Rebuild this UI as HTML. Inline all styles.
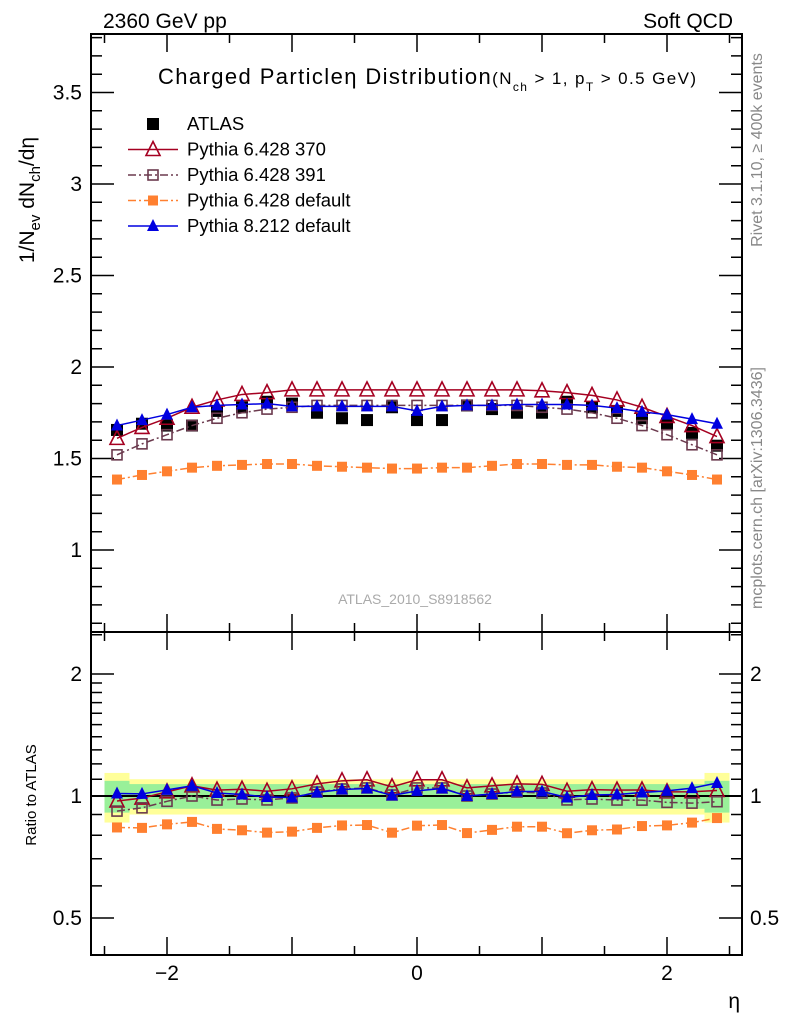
<!DOCTYPE html>
<html><head><meta charset="utf-8">
<style>
body{margin:0;background:#fff;}
svg text{font-family:"Liberation Sans",Arial,sans-serif;}
</style></head>
<body>
<svg id="chart" width="786" height="1024" viewBox="0 0 786 1024" xmlns="http://www.w3.org/2000/svg">
<g id="bands"></g>
<g id="axes"></g>
<g id="series"></g>
<g id="labels">
<text x="103" y="28" font-size="21">2360 GeV pp</text>
<text x="733" y="28" font-size="21" text-anchor="end">Soft QCD</text>
<text x="158" y="84" font-size="22" textLength="538" lengthAdjust="spacing">Charged Particle<tspan>η</tspan> Distribution<tspan font-size="17">(N</tspan><tspan font-size="12" dy="7">ch</tspan><tspan font-size="17" dy="-7"> &gt; 1, p</tspan><tspan font-size="12" dy="7">T</tspan><tspan font-size="17" dy="-7"> &gt; 0.5 GeV)</tspan></text>
<text transform="translate(34,200) rotate(-90)" font-size="21" text-anchor="middle">1/N<tspan font-size="15" dy="6">ev</tspan><tspan dy="-6"> dN</tspan><tspan font-size="15" dy="6">ch</tspan><tspan dy="-6">/dη</tspan></text>
<text transform="translate(36,795) rotate(-90)" font-size="15" text-anchor="middle">Ratio to ATLAS</text>
<text x="740" y="1008" font-size="21" text-anchor="end">η</text>
<text transform="translate(762,150) rotate(-90)" font-size="16" fill="#888" text-anchor="middle">Rivet 3.1.10, ≥ 400k events</text>
<text transform="translate(762,488) rotate(-90)" font-size="16" fill="#888" text-anchor="middle">mcplots.cern.ch [arXiv:1306.3436]</text>
<text x="415" y="604" font-size="14" fill="#aaa" text-anchor="middle">ATLAS_2010_S8918562</text>
</g>
<g id="legend"></g>
</svg>
<script>
const etas=[-2.4,-2.2,-2.0,-1.8,-1.6,-1.4,-1.2,-1.0,-0.8,-0.6,-0.4,-0.2,0,0.2,0.4,0.6,0.8,1.0,1.2,1.4,1.6,1.8,2.0,2.2,2.4];
const atlas=[1.656,1.69,1.68,1.68,1.76,1.78,1.81,1.80,1.75,1.72,1.71,1.78,1.71,1.71,1.79,1.77,1.75,1.75,1.81,1.78,1.76,1.72,1.69,1.64,1.57];
const atlasRelErrIn=[0.09,0.07,0.07,0.07,0.07,0.07,0.07,0.07,0.07,0.07,0.07,0.07,0.07,0.07,0.07,0.07,0.07,0.07,0.07,0.07,0.07,0.07,0.07,0.07,0.09];
const atlasRelErrOut=[0.14,0.10,0.10,0.10,0.10,0.10,0.10,0.10,0.10,0.10,0.10,0.10,0.10,0.10,0.10,0.10,0.10,0.10,0.10,0.10,0.10,0.10,0.10,0.10,0.14];
const py370=[1.61,1.67,1.72,1.78,1.82,1.85,1.86,1.875,1.875,1.875,1.875,1.875,1.875,1.875,1.875,1.875,1.875,1.87,1.86,1.845,1.82,1.78,1.73,1.68,1.62];
const py391=[1.52,1.58,1.63,1.68,1.72,1.75,1.77,1.78,1.79,1.79,1.79,1.79,1.79,1.79,1.79,1.79,1.79,1.78,1.77,1.75,1.72,1.68,1.63,1.575,1.52];
const py6def=[1.385,1.41,1.43,1.45,1.46,1.465,1.47,1.47,1.46,1.455,1.45,1.445,1.445,1.45,1.45,1.46,1.47,1.47,1.465,1.465,1.455,1.45,1.43,1.41,1.385];
const py8def=[1.68,1.71,1.74,1.78,1.79,1.795,1.80,1.785,1.785,1.785,1.785,1.785,1.76,1.785,1.79,1.79,1.795,1.795,1.795,1.79,1.775,1.755,1.74,1.715,1.69];
const mainTicks=["1","1.5","2","2.5","3","3.5"];
const ratioTicks=["0.5","1","2"];
const xTicks=["−2","0","2"];

const NS="http://www.w3.org/2000/svg";
const L=91,R=742,T1=34,B1=632,B2=955;
const X=v=>417+v*125;
const Y=v=>367-(v-2)*183;
const YR=r=>796-Math.log2(r)*122;
function mk(tag,attrs,parent){const e=document.createElementNS(NS,tag);for(const k in attrs)e.setAttribute(k,attrs[k]);parent.appendChild(e);return e;}
const axes=document.getElementById('axes'),ser=document.getElementById('series'),bands=document.getElementById('bands'),leg=document.getElementById('legend');

const hw=0.1;
etas.forEach((e,i)=>{
  const o=atlasRelErrOut[i],n=atlasRelErrIn[i];
  const y1=mk('rect',{x:X(e-hw),width:X(e+hw)-X(e-hw),y:YR(1+o),height:YR(1-o)-YR(1+o),fill:'#ffff99'},bands);
  
  
  const g=mk('rect',{x:X(e-hw),width:X(e+hw)-X(e-hw),y:YR(1+n),height:YR(1-n)-YR(1+n),fill:'#99f099'},bands);
  
  
});

[[T1,B1],[B1,B2]].forEach(([t,b])=>{
  const f=mk('rect',{x:L,y:t,width:R-L,height:b-t,fill:'none',stroke:'#000','stroke-width':2},axes);
  
  
});
let d='';
for(let k=6;k<=38;k++){const v=k/10;const y=Y(v);if(y<T1||y>B1)continue;const maj=k%5==0;const len=maj?23:11;d+=`M${L} ${y}h${len}M${R} ${y}h${-len}`;}
for(let k=5;k<=25;k++){const v=k/10;if(k>20&&k!=25)continue;const y=YR(v);if(y<B1||y>B2)continue;const maj=(k==5||k==10||k==20);const len=maj?23:11;d+=`M${L} ${y}h${len}M${R} ${y}h${-len}`;}
for(let k=-5;k<=5;k++){const v=k/2;const x=X(v);if(x<L||x>R)continue;const maj=k%2==0;const len=maj?18:9;d+=`M${x} ${B1}v${-len}M${x} ${T1}v${len}M${x} ${B2}v${-len}M${x} ${B1}v${len}`;}
mk('path',{d:d,stroke:'#000','stroke-width':1.5,fill:'none'},axes);
mk('line',{x1:L,x2:R,y1:YR(1),y2:YR(1),stroke:'#000','stroke-width':2},axes);
mainTicks.forEach(t=>{const e=mk('text',{x:82,y:Y(+t)+7,'font-size':21,'text-anchor':'end'},axes);e.textContent=t;});
ratioTicks.forEach(t=>{[[82,'end'],[750,'start']].forEach(([x,a])=>{const e=mk('text',{x:x,y:YR(+t)+7,'font-size':21,'text-anchor':a},axes);e.textContent=t;});});
xTicks.forEach(t=>{const v=parseFloat(t.replace('−','-'));const e=mk('text',{x:X(v),y:980,'font-size':21,'text-anchor':'middle'},axes);e.textContent=t;});

function marker(type,color,x,y,s,parent){
  if(type==='sq')return mk('rect',{x:x-s,y:y-s,width:2*s,height:2*s,fill:color},parent);
  if(type==='osq')return mk('rect',{x:x-s+1,y:y-s+1,width:2*s-2,height:2*s-2,fill:'none',stroke:color,'stroke-width':1.6},parent);
  if(type==='tri')return mk('path',{d:`M${x} ${y-s-1}L${x+s} ${y+s-1}L${x-s} ${y+s-1}Z`,fill:color},parent);
  if(type==='otri')return mk('path',{d:`M${x} ${y-s-1}L${x+s} ${y+s-1}L${x-s} ${y+s-1}Z`,fill:'none',stroke:color,'stroke-width':1.6},parent);
}
const series=[
 {name:'pythia-6428-370',vals:py370,color:'#a50021',m:'otri',s:7,dash:''},
 {name:'pythia-6428-391',vals:py391,color:'#6b3a4e',m:'osq',s:6,dash:'8,3,2,3'},
 {name:'pythia-6428-default',vals:py6def,color:'#ff8030',m:'sq',s:5,dash:'8,3,2,3'},
 {name:'pythia-8212-default',vals:py8def,color:'#0000e0',m:'tri',s:6,dash:''},
];
etas.forEach((e,i)=>{const m=marker('sq','#000',X(e),Y(atlas[i]),6,ser);});
series.forEach(sr=>{
  const g=mk('g',{},ser);
  
  
  const pts=etas.map((e,i)=>[X(e),Y(sr.vals[i])]);
  const rpts=etas.map((e,i)=>[X(e),YR(sr.vals[i]/atlas[i])]);
  [pts,rpts].forEach(p=>{
    const pl=mk('polyline',{points:p.map(q=>q.join(',')).join(' '),fill:'none',stroke:sr.color,'stroke-width':1.5,'stroke-dasharray':sr.dash},g);
    
    
    p.forEach(q=>{const m=marker(sr.m,sr.color,q[0],q[1],sr.s,g);});
  });
});
const entries=[['ATLAS','#000','sq','',null,6],['Pythia 6.428 370','#a50021','otri','',1,7],['Pythia 6.428 391','#6b3a4e','osq','8,3,2,3',1,6],['Pythia 6.428 default','#ff8030','sq','8,3,2,3',1,5],['Pythia 8.212 default','#0000e0','tri','',1,6]];
entries.forEach((en,i)=>{
  const y=124+i*25.5;
  const g=mk('g',{},leg);
  
  
  if(en[4])mk('line',{x1:128,x2:178,y1:y,y2:y,stroke:en[1],'stroke-width':1.5,'stroke-dasharray':en[3]},g);
  marker(en[2],en[1],153,y,en[5],g);
  const t=mk('text',{x:187,y:y+6,'font-size':18.5},g);t.textContent=en[0];
});
</script>
</body></html>
